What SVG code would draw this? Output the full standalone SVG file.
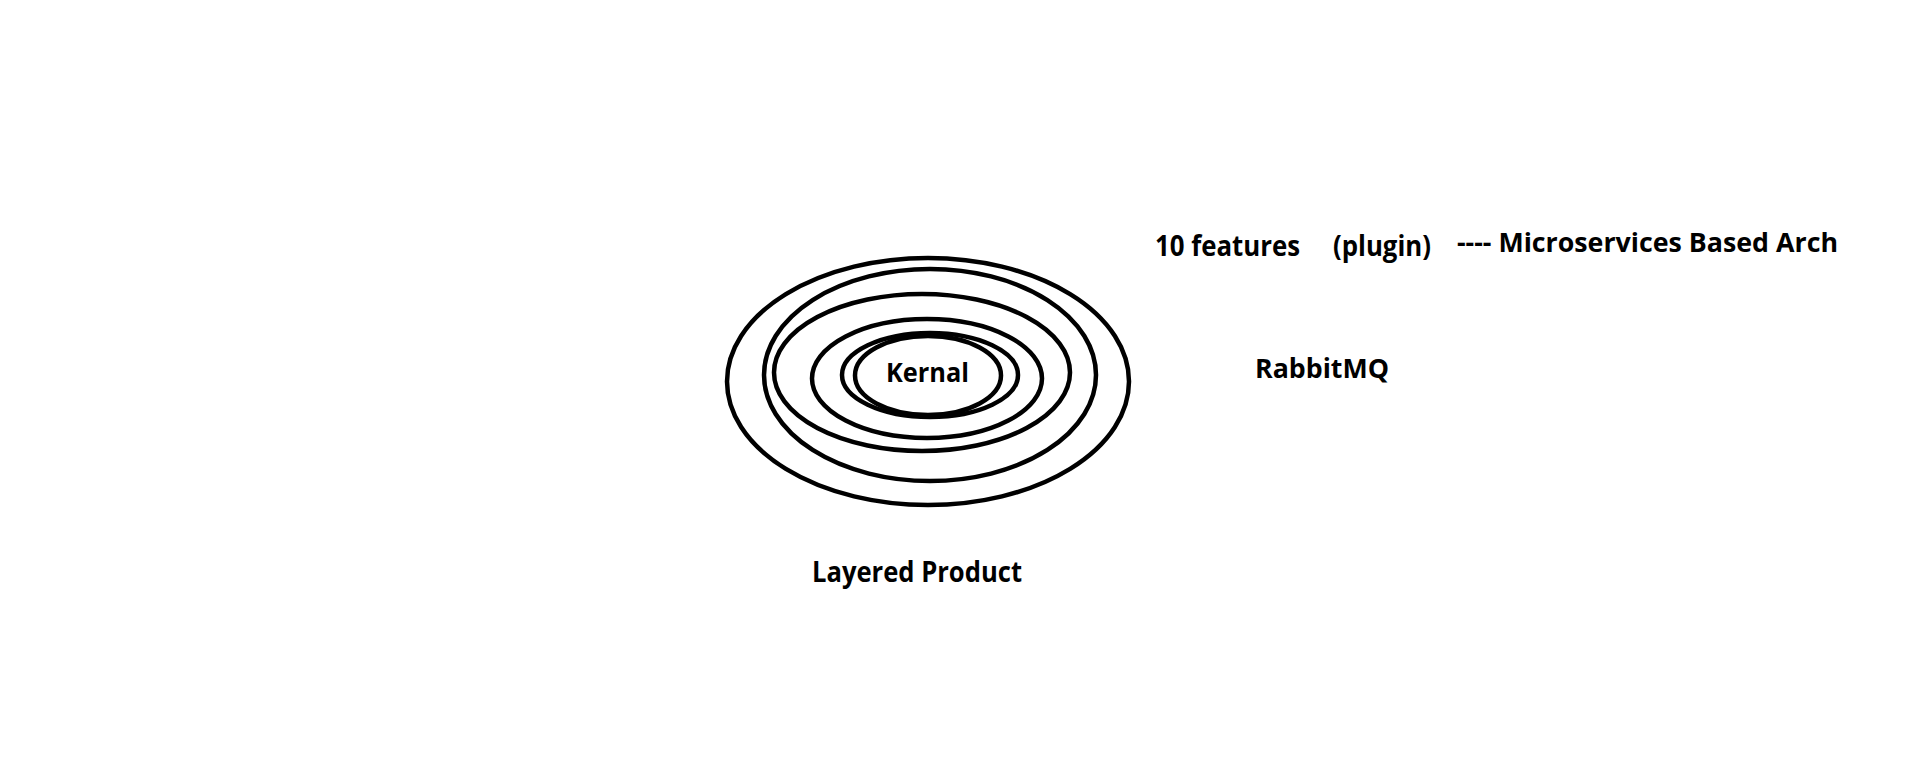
<svg xmlns="http://www.w3.org/2000/svg" width="1906" height="761" viewBox="0 0 1906 761">
<style>
.ring{fill:none;stroke:#000;stroke-width:4.5}
.t{font-family:"Open Sans","Liberation Sans",sans-serif;font-weight:700;fill:#000}
</style>
<rect width="1906" height="761" fill="#fff"/>
<g id="rings">
<ellipse class="ring" cx="928" cy="381.5" rx="201" ry="123.5"/>
<ellipse class="ring" cx="930" cy="375" rx="166" ry="106"/>
<ellipse class="ring" cx="922" cy="372.5" rx="148" ry="78.5"/>
<ellipse class="ring" cx="927" cy="378.5" rx="115" ry="59.5"/>
<ellipse class="ring" cx="930" cy="375" rx="88" ry="42"/>
<ellipse class="ring" cx="928" cy="375.5" rx="73" ry="39.5"/>
</g>
<g id="kernal"><text class="t" x="886" y="382" font-size="27" textLength="83" lengthAdjust="spacingAndGlyphs">Kernal</text></g>
<g id="layered"><text class="t" x="812" y="582" font-size="28" textLength="210" lengthAdjust="spacingAndGlyphs">Layered Product</text></g>
<g id="rabbit"><text class="t" x="1255" y="378" font-size="26" textLength="134" lengthAdjust="spacingAndGlyphs">RabbitMQ</text></g>
<g id="features"><text class="t" x="1155" y="256" font-size="28" textLength="145" lengthAdjust="spacingAndGlyphs">10 features</text>
<text class="t" x="1333" y="256" font-size="28" textLength="98" lengthAdjust="spacingAndGlyphs">(plugin)</text></g>
<g id="micro"><text class="t" x="1457" y="252" font-size="27" textLength="381" lengthAdjust="spacingAndGlyphs">---- Microservices Based Arch</text></g>
</svg>
